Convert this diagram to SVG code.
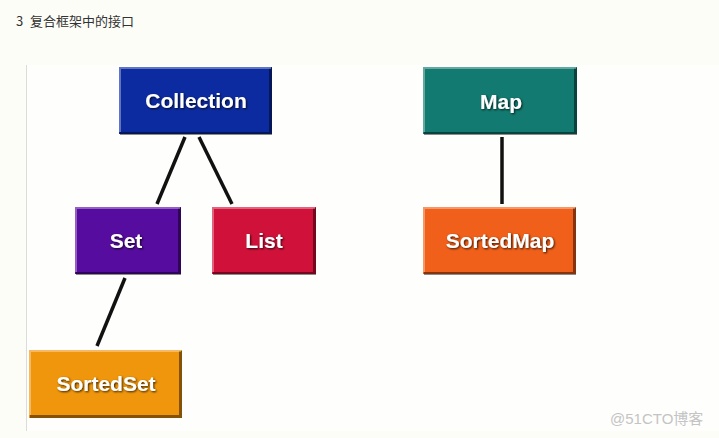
<svg xmlns="http://www.w3.org/2000/svg" width="719" height="438" viewBox="0 0 719 438">
<style>
.bg{fill:#fdfdf8}
.lbl{font-family:"Liberation Sans",Arial,sans-serif;font-weight:bold;font-size:21px;fill:#ffffff;text-anchor:middle;filter:url(#ts)}
.hl{fill:none;stroke:#ffffff;stroke-opacity:0.35;stroke-width:2}
.sh{fill:none;stroke:#000000;stroke-opacity:0.45;stroke-width:3}
.conn line{stroke:#111111;stroke-width:3.5;stroke-linecap:butt}
</style>
<defs>
<filter id="ts" x="-20%" y="-40%" width="140%" height="180%">
<feDropShadow dx="1" dy="1" stdDeviation="1" flood-color="#000000" flood-opacity="0.8"/>
</filter>
</defs>
<rect class="bg" x="0" y="0" width="719" height="438"/>
<rect x="26" y="65" width="693" height="366" fill="#fefefc"/>
<line x1="26.5" y1="65" x2="26.5" y2="431" stroke="#dcdcdc" stroke-width="1"/>
<text x="16" y="26" font-family="'Noto Sans CJK SC','Noto Sans',sans-serif" font-size="13" fill="#333333"><tspan>3</tspan><tspan x="30">复合框架中的接口</tspan></text>
<g class="conn" id="connectors">
<line x1="185" y1="137" x2="157" y2="204"/>
<line x1="199" y1="137" x2="232" y2="204"/>
<line x1="125" y1="278" x2="97" y2="346"/>
<line x1="502" y1="137" x2="502" y2="204"/>
</g>
<g id="collection">
<rect x="119" y="67" width="153" height="67" fill="#0c2ba0"/>
<polyline class="sh" points="120,133.5 270.5,133.5 270.5,68"/>
<polyline class="hl" points="120,132 120,68 271,68"/>
<text class="lbl" x="196" y="108">Collection</text>
</g>
<g id="set">
<rect x="75" y="207" width="106" height="67" fill="#560c9e"/>
<polyline class="sh" points="76,273.5 179.5,273.5 179.5,208"/>
<polyline class="hl" points="76,272 76,208 180,208"/>
<text class="lbl" x="126" y="248">Set</text>
</g>
<g id="list">
<rect x="212" y="207" width="104" height="67" fill="#d0123a"/>
<polyline class="sh" points="213,273.5 314.5,273.5 314.5,208"/>
<polyline class="hl" points="213,272 213,208 315,208"/>
<text class="lbl" x="264" y="248">List</text>
</g>
<g id="sortedset">
<rect x="29" y="350" width="153" height="68" fill="#f0960c"/>
<polyline class="sh" points="30,416.5 180.5,416.5 180.5,351"/>
<polyline class="hl" points="30,415 30,351 181,351"/>
<text class="lbl" x="106" y="391">SortedSet</text>
</g>
<g id="map">
<rect x="423" y="67" width="154" height="67" fill="#127a70"/>
<polyline class="sh" points="424,133.5 575.5,133.5 575.5,68"/>
<polyline class="hl" points="424,132 424,68 576,68"/>
<text class="lbl" x="501" y="109">Map</text>
</g>
<g id="sortedmap">
<rect x="423" y="207" width="153" height="67" fill="#f0601a"/>
<polyline class="sh" points="424,273.5 574.5,273.5 574.5,208"/>
<polyline class="hl" points="424,272 424,208 575,208"/>
<text class="lbl" x="500" y="248">SortedMap</text>
</g>
<text x="610" y="424" font-family="'Liberation Sans','Noto Sans CJK SC',sans-serif" font-size="15" fill="#c4c4c4">@51CTO博客</text>
</svg>
